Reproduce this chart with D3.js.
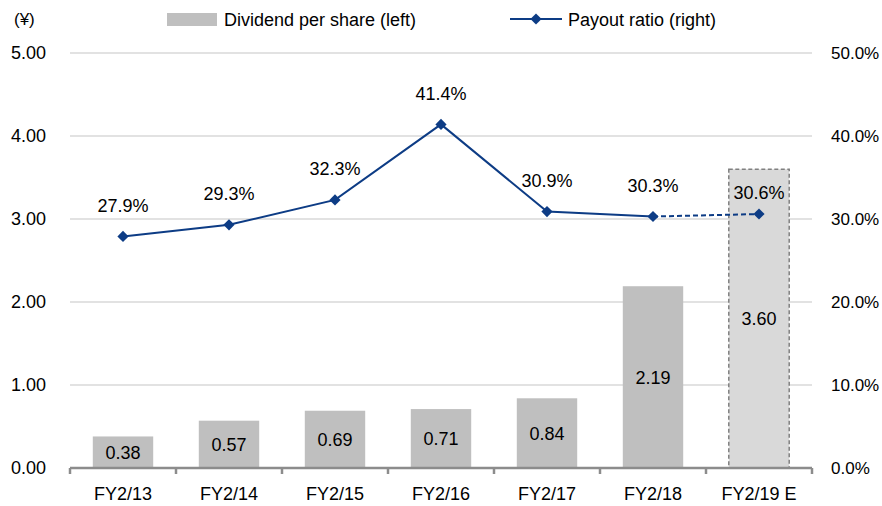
<!DOCTYPE html>
<html lang="en">
<head>
<meta charset="UTF-8">
<title>Dividend per share and payout ratio</title>
<style>
    body { margin: 0; background: #fff; overflow: hidden; }
    svg { display: block; }
    text { font-family: "Liberation Sans", Arial, sans-serif; fill: #000; }
</style>
</head>
<body>
<svg width="882" height="506"></svg>
<script src="https://d3js.org/d3.v7.min.js"></script>
<script>

    // Data
    const categories = ['FY2/13', 'FY2/14', 'FY2/15', 'FY2/16', 'FY2/17', 'FY2/18', 'FY2/19 E'];
    const dividends = [0.38, 0.57, 0.69, 0.71, 0.84, 2.19, 3.60];
    const payoutRatios = [27.9, 29.3, 32.3, 41.4, 30.9, 30.3, 30.6];
    const leftTicks = [0, 1, 2, 3, 4, 5];
    const rightTicks = [0, 10, 20, 30, 40, 50];

    const margin = { left: 70, right: 70, top: 53, bottom: 38 };

    const svg = d3.select('svg');
    const width = +svg.attr('width');
    const height = +svg.attr('height');
    const innerWidth = width - margin.left - margin.right;
    const innerHeight = height - margin.top - margin.bottom;

    const g = svg.append('g')
        .attr('transform', 'translate(' + margin.left + ',' + margin.top + ')');

    const xScale = d3.scaleBand()
        .domain(categories)
        .range([0, innerWidth])
        .paddingInner(0.43)
        .paddingOuter(0.215);

    // band scale for the category boundaries (tick marks)
    const xOuter = d3.scaleBand()
        .domain(categories)
        .range([0, innerWidth]);

    const yLeft = d3.scaleLinear().domain([0, 5]).range([innerHeight, 0]);
    const yRight = d3.scaleLinear().domain([0, 50]).range([innerHeight, 0]);

    // gridlines
    g.append('g')
        .selectAll('line')
        .data(leftTicks)
        .enter()
        .append('line')
        .attr('x1', 0).attr('x2', innerWidth)
        .attr('y1', d => yLeft(d)).attr('y2', d => yLeft(d))
        .attr('stroke', '#d9d9d9')
        .attr('stroke-width', 1.3);

    // left axis labels
    g.append('g')
        .call(d3.axisLeft(yLeft).tickValues(leftTicks).tickSize(0).tickPadding(24).tickFormat(d3.format('.2f')))
        .call(a => a.select('.domain').remove())
        .selectAll('text')
        .style('font-size', '18px');

    // right axis labels
    g.append('g')
        .attr('transform', 'translate(' + innerWidth + ',0)')
        .call(d3.axisRight(yRight).tickValues(rightTicks).tickSize(0).tickPadding(19)
            .tickFormat(d => d3.format('.1f')(d) + '%'))
        .call(a => a.select('.domain').remove())
        .selectAll('text')
        .style('font-size', '17px');

    svg.append('text')
        .attr('x', 14)
        .attr('y', 25)
        .style('font-size', '17px')
        .text('(¥)');

    // bars
    const last = categories.length - 1;
    g.selectAll('rect.bar')
        .data(dividends)
        .enter()
        .append('rect')
        .attr('class', 'bar')
        .attr('x', (d, i) => xScale(categories[i]))
        .attr('y', d => yLeft(d))
        .attr('width', xScale.bandwidth())
        .attr('height', d => innerHeight - yLeft(d))
        .attr('fill', (d, i) => i === last ? '#d9d9d9' : '#bfbfbf')
        .attr('stroke', (d, i) => i === last ? '#808080' : 'none')
        .attr('stroke-width', 1.5)
        .attr('stroke-dasharray', '4,2.5');

    g.append('g')
        .attr('text-anchor', 'middle')
        .selectAll('text')
        .data(dividends)
        .enter()
        .append('text')
        .attr('transform', (d, i) => 'translate(' + (xScale(categories[i]) + xScale.bandwidth() / 2) + ',' +
            ((yLeft(d) + innerHeight) / 2 + 6.5) + ')')
        .style('font-size', '18px')
        .text(d => d3.format('.2f')(d));

    // x axis
    const xAxisG = g.append('g')
        .attr('transform', 'translate(0,' + innerHeight + ')');

    xAxisG.append('line')
        .attr('x1', 0).attr('x2', innerWidth)
        .attr('stroke', '#8c8c8c').attr('stroke-width', 2.5);

    xAxisG.selectAll('line.tick')
        .data(categories.concat([null]))
        .enter()
        .append('line')
        .attr('class', 'tick')
        .attr('x1', (d, i) => i * xOuter.bandwidth())
        .attr('x2', (d, i) => i * xOuter.bandwidth())
        .attr('y1', 0).attr('y2', 6)
        .attr('stroke', '#8c8c8c').attr('stroke-width', 2.5);

    xAxisG.append('g')
        .attr('text-anchor', 'middle')
        .selectAll('text')
        .data(categories)
        .enter()
        .append('text')
        .attr('transform', d => 'translate(' + (xScale(d) + xScale.bandwidth() / 2) + ',31.5)')
        .style('font-size', '18px')
        .text(d => d);

    // payout ratio line
    const cx = i => xScale(categories[i]) + xScale.bandwidth() / 2;
    const lineColor = '#0d3c85';
    const line = d3.line()
        .x(d => cx(d.i))
        .y(d => yRight(d.v));

    const pts = payoutRatios.map((v, i) => ({ v: v, i: i }));

    g.append('path')
        .datum(pts.slice(0, last))
        .attr('d', line)
        .attr('fill', 'none')
        .attr('stroke', lineColor)
        .attr('stroke-width', 2);

    g.append('path')
        .datum(pts.slice(last - 1))
        .attr('d', line)
        .attr('fill', 'none')
        .attr('stroke', lineColor)
        .attr('stroke-width', 2)
        .attr('stroke-dasharray', '5,3');

    const diamond = d3.symbol().type(d3.symbolDiamond2).size(80);

    g.selectAll('path.marker')
        .data(pts)
        .enter()
        .append('path')
        .attr('class', 'marker')
        .attr('d', diamond)
        .attr('transform', d => 'translate(' + cx(d.i) + ',' + yRight(d.v) + ')')
        .attr('fill', lineColor);

    g.append('g')
        .attr('text-anchor', 'middle')
        .selectAll('text')
        .data(pts)
        .enter()
        .append('text')
        .attr('transform', d => 'translate(' + cx(d.i) + ',' +
            (yRight(d.v) - (d.i === last ? 22 : 31) + 6.5) + ')')
        .style('font-size', '18px')
        .text(d => d3.format('.1f')(d.v) + '%');

    // legend
    const legend = svg.append('g');

    legend.append('rect')
        .attr('x', 167).attr('y', 13)
        .attr('width', 50).attr('height', 13)
        .attr('fill', '#bfbfbf');

    legend.append('text')
        .attr('x', 224).attr('y', 25.5)
        .style('font-size', '18px')
        .text('Dividend per share (left)');

    legend.append('line')
        .attr('x1', 510).attr('x2', 562)
        .attr('y1', 19).attr('y2', 19)
        .attr('stroke', lineColor).attr('stroke-width', 2);

    legend.append('path')
        .attr('d', diamond)
        .attr('transform', 'translate(536,19)')
        .attr('fill', lineColor);

    legend.append('text')
        .attr('x', 568).attr('y', 25.5)
        .style('font-size', '18px')
        .text('Payout ratio (right)');

</script>
</body>
</html>
